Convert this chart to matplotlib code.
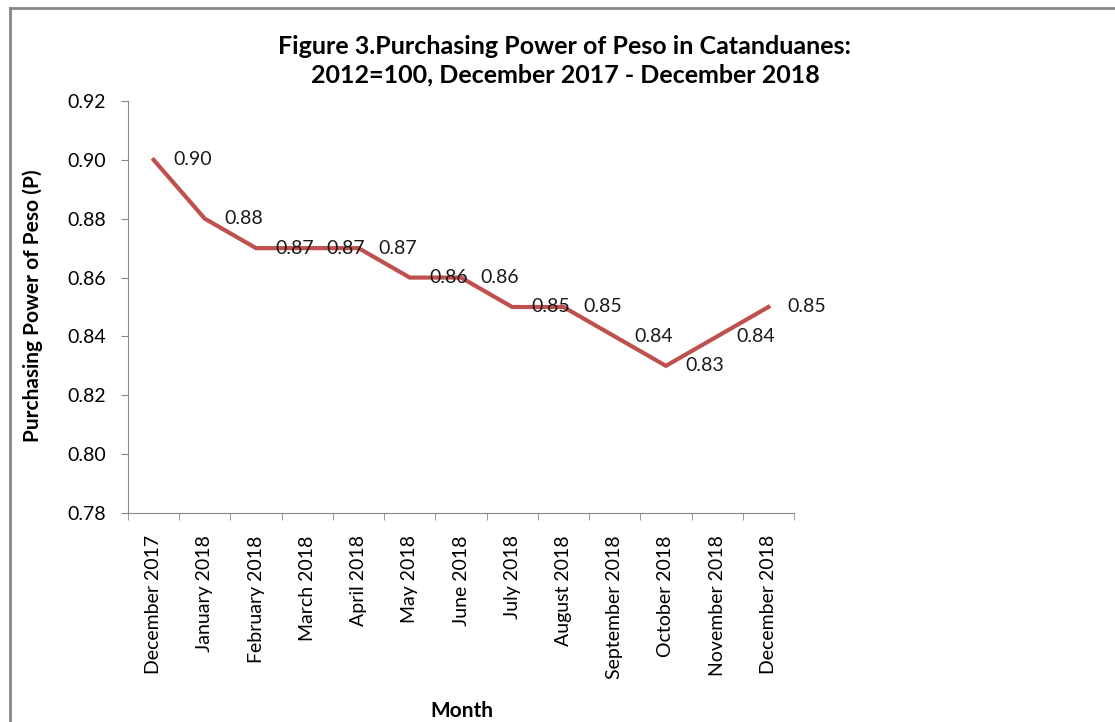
import matplotlib.pyplot as plt
from matplotlib.lines import Line2D

plt.rcParams['font.family'] = ['Lato', 'DejaVu Sans']

months = ["December 2017", "January 2018", "February 2018", "March 2018",
          "April 2018", "May 2018", "June 2018", "July 2018", "August 2018",
          "September 2018", "October 2018", "November 2018", "December 2018"]
ppp = [0.90, 0.88, 0.87, 0.87, 0.87, 0.86, 0.86, 0.85, 0.85, 0.84, 0.83, 0.84, 0.85]
y_ticks = [0.78, 0.80, 0.82, 0.84, 0.86, 0.88, 0.90, 0.92]

W, H = 1115, 722
fig = plt.figure(figsize=(W / 100, H / 100), dpi=100)
ax = fig.add_axes([128 / W, 1 - 513 / H, (794 - 128) / W, (513 - 101) / H])

x = list(range(len(months)))
ax.plot(x, ppp, color="#c0504d", linewidth=3, solid_joinstyle="miter")
for xi, v in zip(x, ppp):
    ax.annotate(f"{v:.2f}", (xi, v), xytext=(14, 0), textcoords="offset points",
                ha="left", va="center", fontsize=14, color="#1a1a1a")

ax.set_xlim(-0.5, len(months) - 0.5)
ax.set_ylim(0.78, 0.92)
ax.set_yticks(y_ticks)
ax.set_yticklabels([f"{t:.2f}" for t in y_ticks], fontsize=14)
ax.set_xticks(x)
ax.set_xticklabels(months, rotation=90, fontsize=14)
ax.set_xticks([i - 0.5 for i in range(len(months) + 1)], minor=True)
ax.tick_params(axis="x", which="major", length=0, pad=16)
ax.tick_params(axis="x", which="minor", length=5, color="#888888", direction="out")
ax.tick_params(axis="y", length=5, color="#888888", direction="out", pad=11)
for s in ["top", "right"]:
    ax.spines[s].set_visible(False)
for s in ["left", "bottom"]:
    ax.spines[s].set_color("#888888")

fig.text(462 / W, 1 - 711 / H, "Month", ha="center", va="center",
         fontsize=15, fontweight="bold")
fig.text(33 / W, 1 - 306 / H, "Purchasing Power of Peso (P)", ha="center", va="center",
         rotation=90, fontsize=15, fontweight="bold")

fig.text(565 / W, 1 - 61 / H,
         "Figure 3.Purchasing Power of Peso in Catanduanes:\n2012=100, December 2017 - December 2018",
         ha="center", va="center", fontsize=18, fontweight="bold", linespacing=1.3)

# chart frame
fig.add_artist(Line2D([10 / W, 10 / W], [0, 1 - 8 / H], transform=fig.transFigure,
                      color="#888888", linewidth=2))
fig.add_artist(Line2D([10 / W, 1], [1 - 8 / H, 1 - 8 / H], transform=fig.transFigure,
                      color="#888888", linewidth=2))

fig.savefig("out.png", dpi=100)
